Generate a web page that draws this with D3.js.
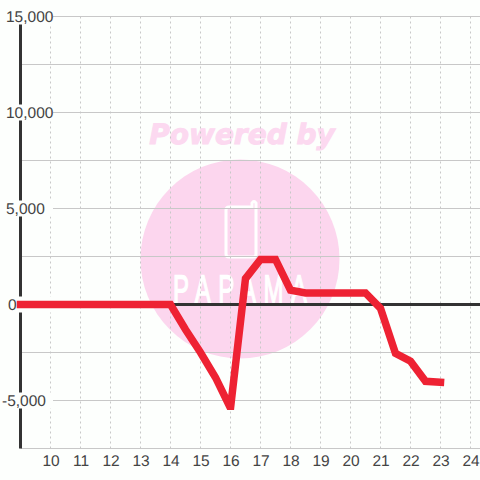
<!DOCTYPE html>
<html>
<head>
<meta charset="utf-8">
<script src="https://cdnjs.cloudflare.com/ajax/libs/d3/7.8.5/d3.min.js"></script>
<style>
  html, body { margin: 0; padding: 0; background: #fdfffd; }
  svg { display: block; }
  text { font-family: "Liberation Sans", sans-serif; text-rendering: geometricPrecision; }
</style>
</head>
<body>
<div id="chart"></div>
<script>
// hours on the x axis, half-hour steps
const hours = [9, 9.5, 10, 10.5, 11, 11.5, 12, 12.5, 13, 13.5, 14, 14.5, 15, 15.5, 16, 16.5,
    17, 17.5, 18, 18.5, 19, 19.5, 20, 20.5, 21, 21.5, 22, 22.5, 23];
const values = [0, 0, 0, 0, 0, 0, 0, 0, 0, 0, 0, -1300, -2500, -3800, -5400, 1350,
    2350, 2350, 750, 600, 600, 600, 600, 600, -200, -2550, -2950, -4000, -4050];
const xTicks = [10, 11, 12, 13, 14, 15, 16, 17, 18, 19, 20, 21, 22, 23, 24];
const yGrid = [15000, 12500, 10000, 7500, 5000, 2500, 0, -2500, -5000, -7500];
const yLabels = [15000, 10000, 5000, 0, -5000];

const svgWidth = 480,
    svgHeight = 480,
    margin = { top: 16, right: 0, bottom: 32, left: 20.5 },
    width = svgWidth - margin.left - margin.right,
    height = svgHeight - margin.top - margin.bottom;

let svg = d3.select("#chart").append("svg")
    .attr("width", svgWidth)
    .attr("height", svgHeight);

let xScale = d3.scaleLinear()
    .domain([9, 9 + width / 30])
    .range([margin.left, svgWidth]);
let yScale = d3.scaleLinear()
    .domain([15000, -7500])
    .range([margin.top + 0.5, margin.top + 0.5 + height]);

// watermark sits under everything else
let mark = svg.append("g");
mark.append("circle")
    .attr("cx", 240)
    .attr("cy", 259)
    .attr("r", 99.5)
    .attr("fill", "#fcd6ee");
mark.append("text")
    .attr("x", 242)
    .attr("y", 144)
    .attr("text-anchor", "middle")
    .attr("font-size", 28)
    .attr("font-weight", "bold")
    .attr("font-style", "italic")
    .attr("style", "font-family:'DejaVu Sans'")
    .attr("fill", "#fcd9f0")
    .attr("stroke", "#fcd9f0")
    .attr("stroke-width", 1)
    .text("Powered by");
mark.append("path")
    .attr("d", "M229,207 H252 V203 Q254,200 256,203 V254 Q256,257 253,257 H229 Q226,257 226,254 V210 Q226,207 229,207 Z")
    .attr("fill", "none")
    .attr("stroke", "#fff")
    .attr("stroke-width", 3);
mark.append("text")
    .attr("transform", "translate(240,303) scale(0.6,1)")
    .attr("text-anchor", "middle")
    .attr("font-size", 40)
    .attr("textLength", 223)
    .attr("lengthAdjust", "spacing")
    .attr("fill", "#fff")
    .attr("stroke", "#fff")
    .attr("stroke-width", 1.4)
    .text("PAPAMA");

// grid
svg.append("g").selectAll("line")
    .data(yGrid)
    .join("line")
    .attr("x1", margin.left)
    .attr("x2", svgWidth)
    .attr("y1", (d) => yScale(d))
    .attr("y2", (d) => yScale(d))
    .attr("stroke", "#c8c8c8")
    .attr("stroke-width", 1);
svg.append("g").selectAll("line")
    .data(xTicks)
    .join("line")
    .attr("x1", (d) => xScale(d))
    .attr("x2", (d) => xScale(d))
    .attr("y1", yScale(15000))
    .attr("y2", yScale(-7500))
    .attr("stroke", "#c8c8c8")
    .attr("stroke-dasharray", "2,3");

// axis lines
svg.append("line")
    .attr("x1", margin.left)
    .attr("x2", margin.left)
    .attr("y1", yScale(15000))
    .attr("y2", yScale(-7500))
    .attr("stroke", "#333")
    .attr("stroke-width", 3);
svg.append("line")
    .attr("x1", margin.left)
    .attr("x2", svgWidth)
    .attr("y1", yScale(0))
    .attr("y2", yScale(0))
    .attr("stroke", "#333")
    .attr("stroke-width", 3);

// tick labels, with a background box that cuts into the axis
let fmt = (d) => d3.format(",")(d).replace("\u2212", "-");
let labelGroup = svg.append("g");
labelGroup.selectAll("rect")
    .data(yLabels)
    .join("rect")
    .attr("x", 0)
    .attr("y", (d) => yScale(d) - 8)
    .attr("width", 53)
    .attr("height", 16)
    .attr("fill", "#fdfffd");
labelGroup.selectAll("text")
    .data(yLabels)
    .join("text")
    .attr("x", (d) => d == 0 ? 8 : (d < 0 ? 2 : 6))
    .attr("y", (d) => yScale(d) + 5.5)
    .attr("font-size", 15.5)
    .attr("fill", "#444")
    .text((d) => fmt(d));
svg.append("g").selectAll("text")
    .data(xTicks)
    .join("text")
    .attr("x", (d) => xScale(d) + 0.5)
    .attr("y", 466)
    .attr("text-anchor", "middle")
    .attr("font-size", 15.5)
    .attr("fill", "#444")
    .text((d) => d);

// series line, tip of the spike is cut flat
svg.append("clipPath")
    .attr("id", "plot-clip")
    .append("rect")
    .attr("x", 0)
    .attr("y", 0)
    .attr("width", svgWidth)
    .attr("height", 410);
let line = d3.line()
    .x((d, i) => xScale(hours[i]))
    .y((d) => yScale(d));
svg.append("path")
    .datum(values)
    .attr("d", line)
    .attr("clip-path", "url(#plot-clip)")
    .attr("fill", "none")
    .attr("stroke", "#ee2233")
    .attr("stroke-width", 7.5)
    .attr("stroke-linecap", "square")
    .attr("stroke-linejoin", "miter")
    .attr("stroke-miterlimit", 10);
</script>
</body>
</html>
